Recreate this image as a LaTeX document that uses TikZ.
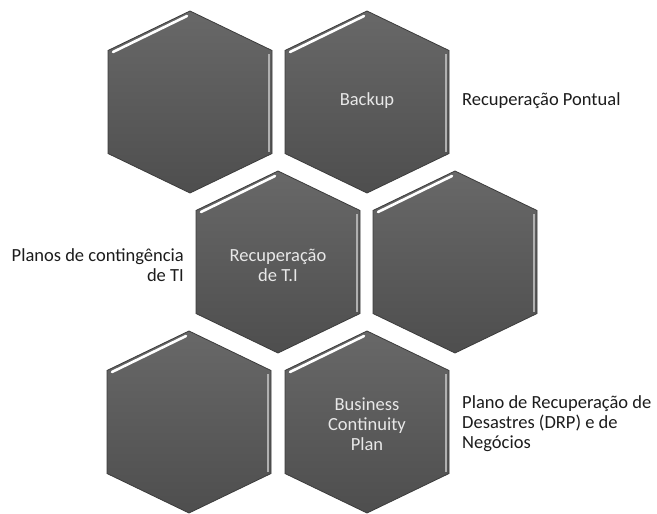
\documentclass[tikz,border=0pt]{standalone}
\usepackage{fontspec}
\setmainfont{Carlito}
\definecolor{hextop}{RGB}{104,104,104}
\definecolor{hexbot}{RGB}{78,78,78}
\definecolor{hexedge}{RGB}{60,60,60}
\definecolor{hexside}{RGB}{176,176,176}
\definecolor{intextcol}{RGB}{232,232,232}
\definecolor{outtextcol}{RGB}{28,28,28}
\newcommand\hexcell[2]{%
  \shade[top color=hextop, bottom color=hexbot, draw=hexedge, line width=0.8pt]
    (#1,#2-91) -- (#1+82,#2-51.5) -- (#1+82,#2+51.5) -- (#1,#2+91)
    -- (#1-82,#2+51.5) -- (#1-82,#2-51.5) -- cycle;
  \draw[white, line width=2.6pt, line cap=round] (#1-77,#2-50) -- (#1-3,#2-86);
  \draw[hexside, line width=2pt] (#1+78.5,#2-48) -- (#1+78.5,#2+50);
}
\begin{document}
\begin{tikzpicture}[x=1pt, y=-1pt,
  intext/.style={text=intextcol, inner sep=0pt, align=center,
    font=\fontsize{18.5}{20}\selectfont},
  outtext/.style={text=outtextcol, inner sep=0pt,
    font=\fontsize{18.5}{20}\selectfont}]
\useasboundingbox[fill=white] (0,0) rectangle (657,514);
\hexcell{190}{102}
\hexcell{367}{102}
\hexcell{278}{262}
\hexcell{455}{262}
\hexcell{189}{422}
\hexcell{367}{422}
\node[intext] (backup) at (367,101) {Backup};
\node[outtext, anchor=west] (pontual) at (462,101) {Recuperação Pontual};
\node[intext] (recti) at (278,265) {Recuperação\\de T.I};
\node[outtext, anchor=east, align=right] (planos) at (184,265) {Planos de contingência\\de TI};
\node[intext] (bcp) at (367,424) {Business\\Continuity\\Plan};
\node[outtext, anchor=west, align=left] (drp) at (462,424) {Plano de Recuperação de\\Desastres (DRP) e de\\Negócios};
\end{tikzpicture}
\end{document}
